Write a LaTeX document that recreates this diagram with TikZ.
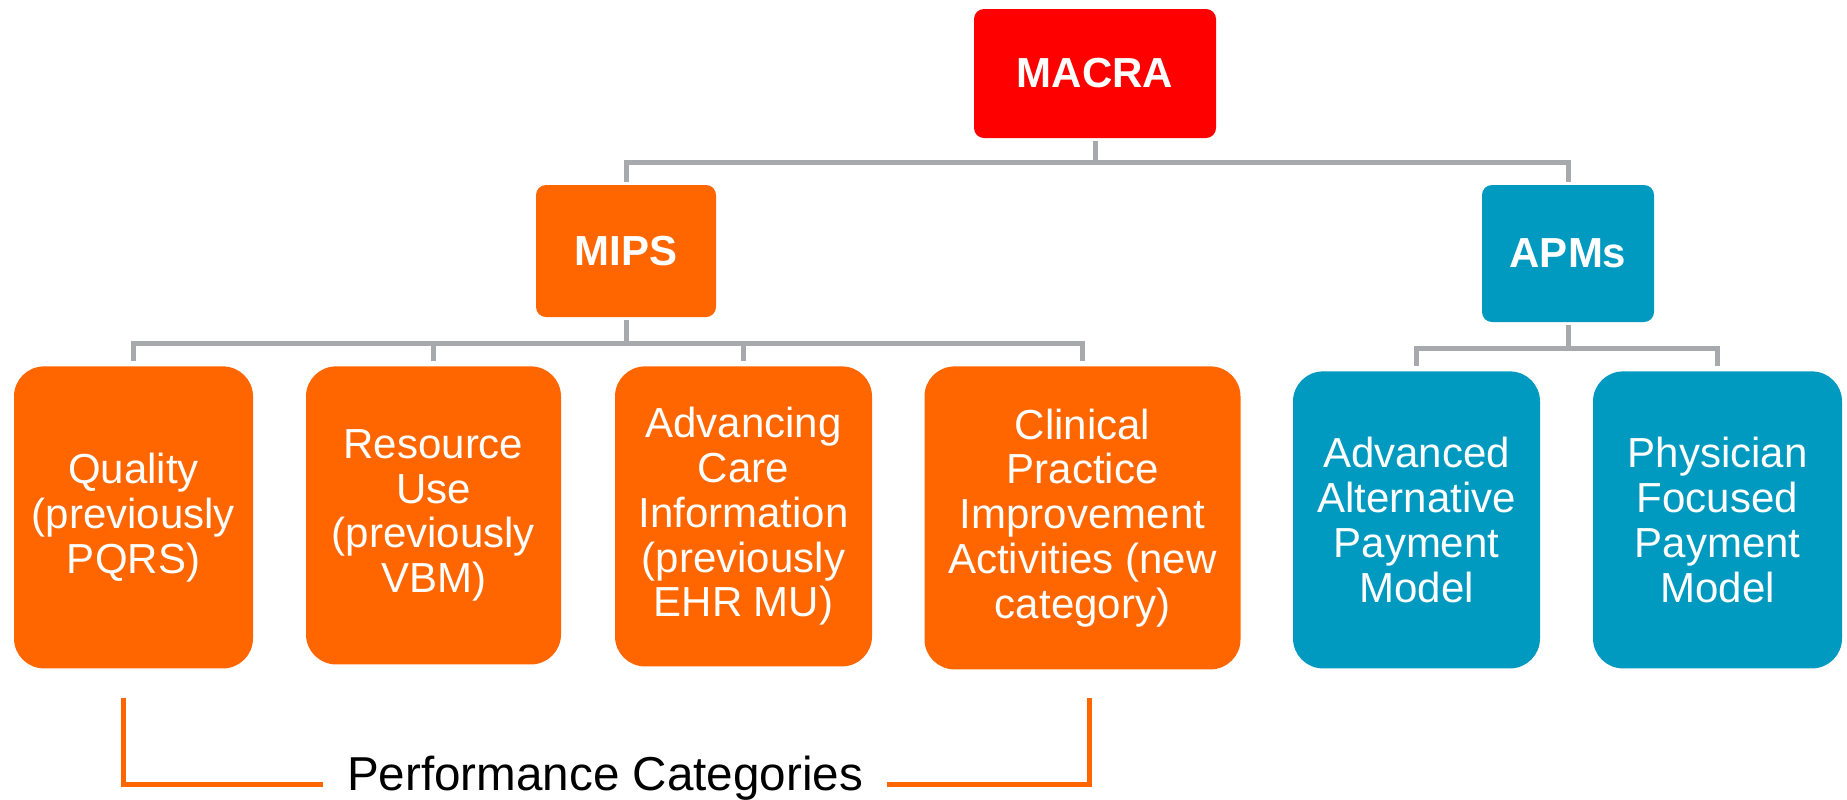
\documentclass[tikz,border=0pt]{standalone}
\usepackage{fontspec}
\setmainfont{Liberation Sans}
\usetikzlibrary{calc}
\definecolor{macrared}{HTML}{FF0000}
\definecolor{mipsorange}{HTML}{FF6600}
\definecolor{apmteal}{HTML}{009AC0}
\definecolor{linegray}{HTML}{A7A9AC}

\begin{document}
\begin{tikzpicture}[x=0.5pt, y=-0.5pt,
box/.style={fill=#1, text=white, align=center, inner sep=0pt, rounded corners=5pt},
head/.style={box=#1, font=\fontsize{21}{25}\selectfont\bfseries},
category/.style={box=#1, anchor=north, rounded corners=15pt, font=\fontsize{21}{22.4}\selectfont},
treeline/.style={draw=linegray, line width=2.5pt},
bracket/.style={draw=mipsorange, line width=2.5pt}]
\useasboundingbox (0,0) rectangle (1847,799);
\node[head=macrared, minimum width=121pt, minimum height=64.5pt] (macra) at (1095,73.5) {MACRA};
\node[head=mipsorange, minimum width=90pt, minimum height=66pt] (mips) at (626,251) {MIPS};
\node[head=apmteal, minimum width=86pt, minimum height=68.5pt] (apms) at (1568,253.5) {APMs};
\node[category=mipsorange, minimum width=119.5pt, minimum height=151pt] (quality) at (133.5,366) {Quality\\(previously\\PQRS)};
\node[category=mipsorange, minimum width=127.5pt, minimum height=149pt] (resource) at (433.5,366) {Resource\\Use\\(previously\\VBM)};
\node[category=mipsorange, minimum width=128.5pt, minimum height=150pt] (advancing) at (743.5,366) {Advancing\\Care\\Information\\(previously\\EHR MU)};
\node[category=mipsorange, minimum width=158pt, minimum height=151.5pt] (clinical) at (1082.5,366) {Clinical\\Practice\\Improvement\\Activities (new\\category)};
\node[category=apmteal, minimum width=123.5pt, minimum height=148.5pt] (advanced) at (1416.5,371) {Advanced\\Alternative\\Payment\\Model};
\node[category=apmteal, minimum width=124.5pt, minimum height=148.5pt] (physician) at (1717.5,371) {Physician\\Focused\\Payment\\Model};
\path (macra.south) ++(0,24) coordinate (macrabus);
\path (mips.south) ++(0,26) coordinate (mipsbus);
\path (apms.south) ++(0,26) coordinate (apmsbus);
\draw[treeline, shorten <=1.5pt] (macra.south) -- (macrabus);
\draw[treeline, shorten <=1.5pt, shorten >=1.5pt] (mips.north) |- (macrabus) -| (apms.north);
\draw[treeline, shorten <=1.5pt] (mips.south) -- (mipsbus);
\draw[treeline, shorten <=1.5pt] (apms.south) -- (apmsbus);
\foreach \c in {quality,resource,advancing,clinical}
  \draw[treeline, shorten >=2.5pt] (mipsbus) -| (\c.north);
\foreach \c in {advanced,physician}
  \draw[treeline, shorten >=2.5pt] (apmsbus) -| (\c.north);
\coordinate (perfleft) at (123,698);
\coordinate (perfright) at (1089,698);
\node[anchor=base, inner xsep=12pt, font=\fontsize{23.8}{28}\selectfont] (perf) at (605,790) {Performance Categories};
\draw[bracket] (perfleft) |- (perf.mid west);
\draw[bracket] (perfright) |- (perf.mid east);
\end{tikzpicture}
\end{document}
